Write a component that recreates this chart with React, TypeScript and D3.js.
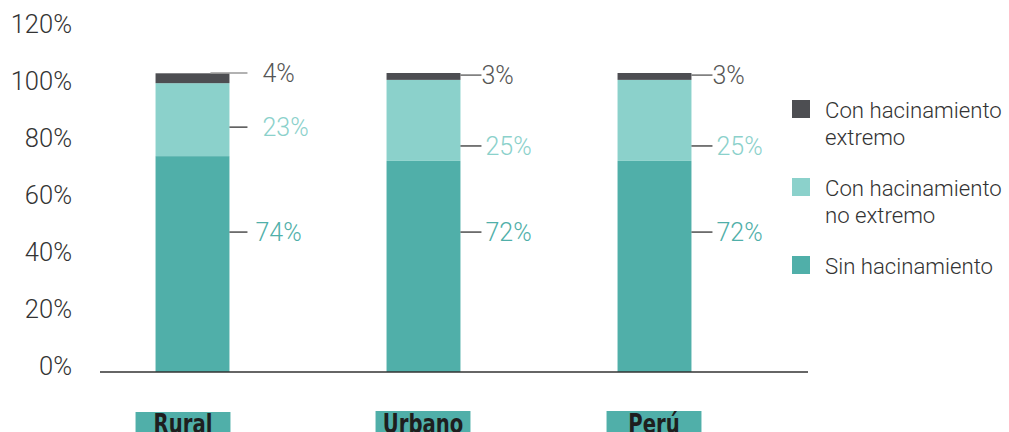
import React from "react";
import * as d3 from "d3";

const categories = ["Rural", "Urbano", "Perú"];
// Bar segment heights as drawn in the reference (percent of bar)
const sinHacinamiento = [72.2, 70.6, 70.6];
const conNoExtremo = [24.4, 27.1, 27.1];
const conExtremo = [3.3, 2.3, 2.3];
// Value labels printed next to the bars
const sinLabels = ["74%", "72%", "72%"];
const noExtLabels = ["23%", "25%", "25%"];
const extLabels = ["4%", "3%", "3%"];
const yTicks = [0, 20, 40, 60, 80, 100, 120];
const seriesNames = ["Con hacinamiento extremo", "Con hacinamiento no extremo", "Sin hacinamiento"];

const W = 1009, H = 432;
const colors = { sin: "#50afa9", noext: "#8bd1cb", ext: "#4d4e52" };
const FONT = "Roboto, 'Noto Sans', sans-serif";

export default function App() {
  const yTick = d3.scaleLinear().domain([0, 120]).range([366, 24]);
  const y = d3.scaleLinear().domain([0, 100]).range([372, 73]);
  const x = d3.scaleBand().domain(categories).range([77, 770]).paddingInner(0.68).paddingOuter(0.34);
  const rows = categories.map((c, i) => ({ cat: c, sin: sinHacinamiento[i], noext: conNoExtremo[i], ext: conExtremo[i] }));
  const stack = d3.stack<any>().keys(["sin", "noext", "ext"])(rows as any);
  const colorOf: Record<string, string> = colors as any;
  const bw = x.bandwidth();

  return (
    <svg width={W} height={H} style={{ position: "absolute", left: 0, top: 0, fontFamily: FONT }}>
      {yTicks.map((t) => (
        <text key={t} x={72} y={yTick(t)} dy="0.36em" textAnchor="end" fontSize={25.5} fontWeight={300} fill="#333">{t}%</text>
      ))}
      {stack.map((s) => s.map((d, i) => (
        <rect key={s.key + i} x={x(categories[i])} width={bw} y={y(d[1])} height={y(d[0]) - y(d[1])} fill={colorOf[s.key]} />
      )))}
      <line x1={100} x2={808} y1={372} y2={372} stroke="#333" strokeWidth={1.5} />
      {categories.map((c, i) => {
        const x0 = x(c)!;
        const xr = x0 + bw;
        const first = i === 0;
        const ySin = y(46.8);
        const yNo = first ? y(81.9) : y(75.6);
        const yExt = first ? y(100) : y(99.3);
        const boxL = first ? x0 - 20 : x0 - 11;
        const boxR = first ? xr + 1 : xr + 10;
        return (
          <g key={c}>
            <line x1={xr} x2={xr + (first ? 18 : 21)} y1={ySin} y2={ySin} stroke="#333" strokeWidth={1.3} />
            <text x={first ? xr + 26 : xr + 25} y={ySin} dy="0.36em" fontSize={25} fontWeight={300} fill={colors.sin}>{sinLabels[i]}</text>
            <line x1={xr} x2={xr + (first ? 18 : 21)} y1={yNo} y2={yNo} stroke="#333" strokeWidth={1.3} />
            <text x={first ? xr + 33 : xr + 25} y={yNo} dy="0.36em" fontSize={25} fontWeight={300} fill={colors.noext}>{noExtLabels[i]}</text>
            <line x1={first ? xr - 19 : xr} x2={xr + (first ? 18 : 21)} y1={yExt} y2={yExt} stroke={first ? "#999" : "#555"} strokeWidth={1.3} />
            <text x={first ? xr + 33 : xr + 21} y={yExt} dy="0.36em" fontSize={25} fontWeight={300} fill="#555">{extLabels[i]}</text>
            <rect x={boxL} y={first ? 412 : 411} width={boxR - boxL} height={22} fill={colors.sin} />
            <g transform={`translate(${(boxL + boxR) / 2},433) scale(0.84,1)`}>
              <text x={0} y={0} textAnchor="middle" fontSize={26} fontWeight="bold" fill="#1e1e1e"
                style={{ fontFamily: "'Liberation Sans Narrow', 'DejaVu Sans Condensed', sans-serif" }}>{c}</text>
            </g>
          </g>
        );
      })}
      {seriesNames.map((n, i) => {
        const col = [colors.ext, colors.noext, colors.sin][i];
        const sy = [100, 178, 256][i];
        const words = n === "Sin hacinamiento" ? [n] : ["Con hacinamiento", n.replace("Con hacinamiento ", "")];
        return (
          <g key={n}>
            <rect x={792} y={sy} width={18} height={18} fill={col} />
            {words.map((w, j) => (
              <text key={j} x={825} y={sy + 17.5 + j * 27.5} fontSize={22.2} fontWeight={300} fill="#333">{w}</text>
            ))}
          </g>
        );
      })}
    </svg>
  );
}
